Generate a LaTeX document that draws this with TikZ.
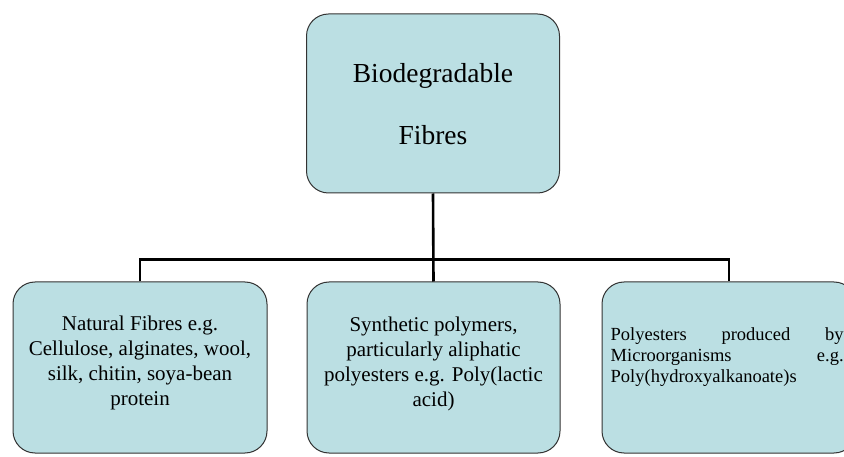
\documentclass[tikz,border=0pt]{standalone}
\usepackage{fontspec}
\setmainfont{Liberation Serif}
\begin{document}
\begin{tikzpicture}[x=1pt,y=-1pt,
  box/.style={draw=black!80, line width=1pt, fill=boxfill, rounded corners=22pt,
    minimum width=253pt, inner sep=0pt},
  label/.style={align=center, inner sep=0pt},
  conn/.style={line width=2.6pt, black}]
\definecolor{boxfill}{RGB}{187,223,227}
\useasboundingbox (0,0) rectangle (844,457);
\clip (0,0) rectangle (844,457);
\fill[white] (0,0) rectangle (844,457);

% root
\node[box, minimum height=179pt] (root) at (433,103.5) {};
\node[label, font=\fontsize{27.5}{62}\selectfont] (rootT) at ([yshift=-1pt]root.center)
  {Biodegradable\\Fibres};

% three classes
\node[box, minimum width=254pt, minimum height=171pt] (nat) at (140,367.5) {};
\node[label, font=\fontsize{21}{25}\selectfont] (natT) at ([yshift=5pt]nat.center)
  {Natural Fibres e.g.\\Cellulose, alginates, wool,\\silk, chitin, soya-bean\\protein};

\node[box, minimum height=171pt] (syn) at (433.5,367.5) {};
\node[label, font=\fontsize{21}{25}\selectfont] (synT) at ([yshift=4pt]syn.center)
  {Synthetic polymers,\\particularly aliphatic\\polyesters e.g. Poly(lactic\\acid)};

\node[box, minimum width=254pt, minimum height=171pt] (mic) at (729,367.5) {};
\node[label, font=\fontsize{18.5}{21}\selectfont, anchor=west] (micT) at ([xshift=9pt,yshift=10pt]mic.west)
  {\parbox{236pt}{\raggedright
   \hbox to 233pt{Polyesters\hfill produced\hfill by}
   \hbox to 233pt{Microorganisms\hfill e.g.}
   Poly(hydroxyalkanoate)s}};

% connectors: trunk from the root, bus across the three classes
\draw[conn] (root.south) -- (syn.north);
\draw[conn] (nat.north) -- ++(0,-22) -| (mic.north);
\end{tikzpicture}
\end{document}
